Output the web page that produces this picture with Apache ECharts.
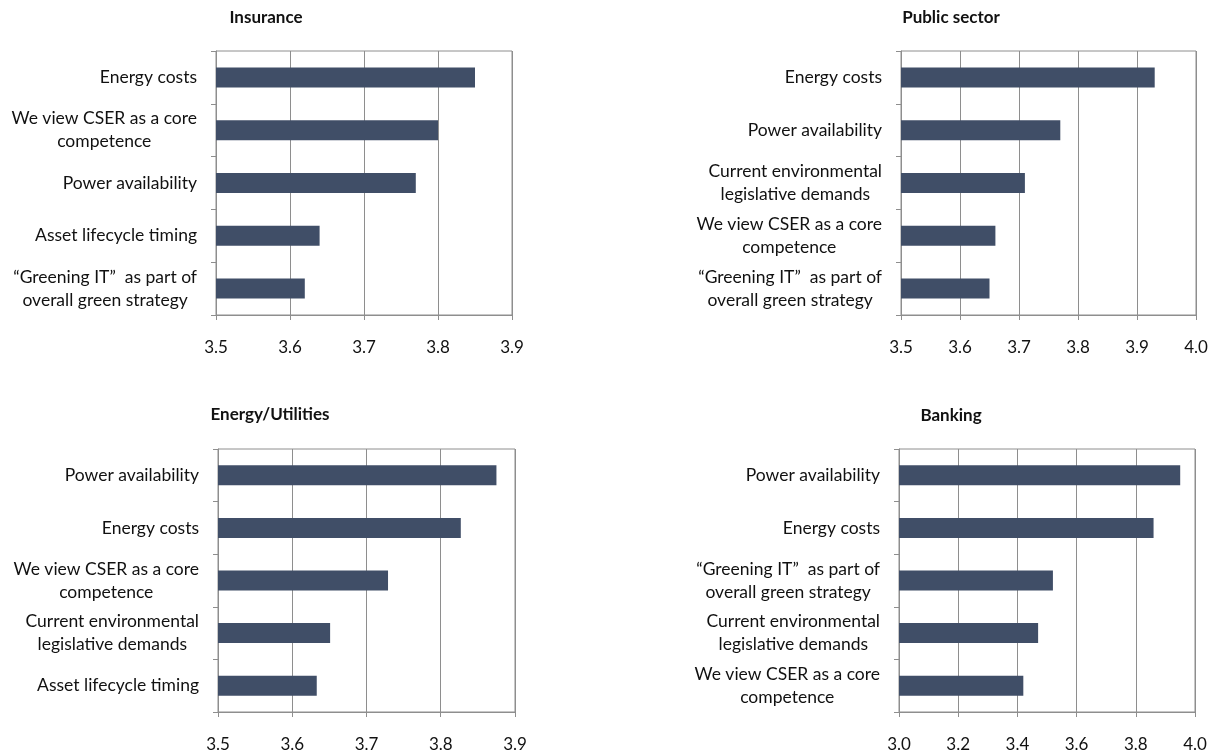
<!DOCTYPE html>
<html>
<head>
<meta charset="utf-8">
<title>Drivers of green IT by industry</title>
<script src="https://cdn.jsdelivr.net/npm/echarts@6/dist/echarts.min.js"></script>
<style>
  html, body { margin: 0; padding: 0; background: #ffffff; }
  #chart { width: 1216px; height: 754px; }
</style>
</head>
<body>
<div id="chart"></div>
<script>
// Average importance score of each driver, one panel per industry.
const insuranceFactors = [
  'Energy costs',
  'We view CSER as a core\ncompetence',
  'Power availability',
  'Asset lifecycle timing',
  '“Greening IT”  as part of\noverall green strategy'
];
const insuranceScores = [3.85, 3.80, 3.77, 3.64, 3.62];
const insuranceTicks = [3.5, 3.6, 3.7, 3.8, 3.9];

const publicFactors = [
  'Energy costs',
  'Power availability',
  'Current environmental\nlegislative demands',
  'We view CSER as a core\ncompetence',
  '“Greening IT”  as part of\noverall green strategy'
];
const publicScores = [3.93, 3.77, 3.71, 3.66, 3.65];
const publicTicks = [3.5, 3.6, 3.7, 3.8, 3.9, 4.0];

const energyFactors = [
  'Power availability',
  'Energy costs',
  'We view CSER as a core\ncompetence',
  'Current environmental\nlegislative demands',
  'Asset lifecycle timing'
];
const energyScores = [3.875, 3.827, 3.729, 3.651, 3.633];
const energyTicks = [3.5, 3.6, 3.7, 3.8, 3.9];

const bankingFactors = [
  'Power availability',
  'Energy costs',
  '“Greening IT”  as part of\noverall green strategy',
  'Current environmental\nlegislative demands',
  'We view CSER as a core\ncompetence'
];
const bankingScores = [3.95, 3.86, 3.52, 3.47, 3.42];
const bankingTicks = [3.0, 3.2, 3.4, 3.6, 3.8, 4.0];

const FONT = 'Lato, "Liberation Sans", "DejaVu Sans", sans-serif';
const TEXT = '#111111';
const LINE = '#8e8e8e';
const BAR = '#404e67';

const panels = [
  { name: 'Insurance', factors: insuranceFactors, scores: insuranceScores, ticks: insuranceTicks,
    grid: { left: 216, top: 51, width: 296, height: 264 }, titleX: 266, titleY: 9 },
  { name: 'Public sector', factors: publicFactors, scores: publicScores, ticks: publicTicks,
    grid: { left: 901, top: 51, width: 295, height: 264 }, titleX: 951, titleY: 9 },
  { name: 'Energy/Utilities', factors: energyFactors, scores: energyScores, ticks: energyTicks,
    grid: { left: 218, top: 449, width: 297, height: 263 }, titleX: 270, titleY: 406 },
  { name: 'Banking', factors: bankingFactors, scores: bankingScores, ticks: bankingTicks,
    grid: { left: 899, top: 449, width: 296, height: 263 }, titleX: 951, titleY: 407 }
];

// Wrapped labels: each line centred within the block, block right-aligned to the axis.
function wrapLabel(value) {
  return value.split('\n').map(function (line) { return '{c|' + line + '}'; }).join('\n');
}

const option = {
  backgroundColor: '#ffffff',
  animation: false,
  textStyle: { fontFamily: FONT },
  title: panels.map(function (p) {
    return {
      text: p.name,
      left: p.titleX,
      top: p.titleY,
      textAlign: 'center',
      padding: 0,
      textStyle: { fontFamily: FONT, fontSize: 17, fontWeight: 'bold', color: TEXT }
    };
  }),
  grid: panels.map(function (p) {
    return Object.assign({ show: true, borderColor: LINE, borderWidth: 1, backgroundColor: 'transparent' }, p.grid);
  }),
  xAxis: panels.map(function (p, i) {
    const t = p.ticks;
    return {
      type: 'value',
      gridIndex: i,
      min: t[0],
      max: t[t.length - 1],
      interval: Math.round((t[1] - t[0]) * 1000) / 1000,
      axisLine: { show: true, lineStyle: { color: LINE, width: 1 } },
      axisTick: { show: true, inside: false, length: 5, lineStyle: { color: LINE } },
      splitLine: { show: true, lineStyle: { color: LINE, width: 1 } },
      axisLabel: {
        margin: 24,
        fontFamily: FONT,
        fontSize: 17,
        color: TEXT,
        formatter: function (v) { return v.toFixed(1); }
      }
    };
  }),
  yAxis: panels.map(function (p, i) {
    return {
      type: 'category',
      gridIndex: i,
      inverse: true,
      data: p.factors,
      axisLine: { show: true, lineStyle: { color: LINE, width: 1 } },
      axisTick: { show: true, inside: false, length: 5, alignWithLabel: false, lineStyle: { color: LINE } },
      splitLine: { show: false },
      axisLabel: {
        margin: 19,
        align: 'right',
        interval: 0,
        formatter: wrapLabel,
        rich: {
          c: { align: 'center', fontFamily: FONT, fontSize: 17.5, lineHeight: 23, color: TEXT }
        }
      }
    };
  }),
  series: panels.map(function (p, i) {
    return {
      type: 'bar',
      name: p.name,
      xAxisIndex: i,
      yAxisIndex: i,
      data: p.scores,
      barWidth: 20,
      itemStyle: { color: BAR }
    };
  })
};

const chart = echarts.init(document.getElementById('chart'), null, { renderer: 'canvas' });
chart.setOption(option);
</script>
</body>
</html>
